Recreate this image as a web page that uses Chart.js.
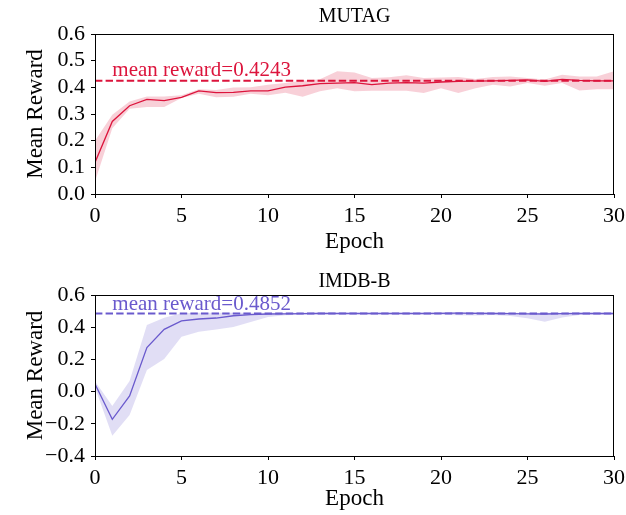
<!DOCTYPE html>
<html>
<head>
<meta charset="utf-8">
<script src="https://cdn.jsdelivr.net/npm/chart.js@4.4.1/dist/chart.umd.min.js"></script>
<style>
  body { margin: 0; background: #fff; }
  #wrap { position: relative; width: 626px; height: 515px; }
  .panel { position: absolute; left: 0; width: 626px; }
</style>
</head>
<body>
<div id="wrap">
  <div class="panel" style="top:0;height:258px"><canvas id="mutagChart"></canvas></div>
  <div class="panel" style="top:258px;height:257px"><canvas id="imdbChart"></canvas></div>
</div>
<script>
// epochs on the x axis
const epochs = [0, 1, 2, 3, 4, 5, 6, 7, 8, 9, 10, 11, 12, 13, 14, 15, 16, 17, 18, 19, 20, 21, 22, 23, 24, 25, 26, 27, 28, 29, 30];

// MUTAG reward per epoch, with the spread band
const mutagReward = [0.118, 0.272, 0.331, 0.355, 0.350, 0.362, 0.387, 0.380, 0.381, 0.387, 0.387, 0.401, 0.406, 0.414, 0.416, 0.418, 0.410, 0.416, 0.418, 0.416, 0.420, 0.422, 0.423, 0.424, 0.426, 0.428, 0.422, 0.430, 0.426, 0.424, 0.424];
const mutagUpper = [0.200, 0.297, 0.347, 0.366, 0.366, 0.370, 0.393, 0.390, 0.399, 0.400, 0.410, 0.416, 0.425, 0.430, 0.460, 0.456, 0.435, 0.438, 0.445, 0.435, 0.437, 0.439, 0.431, 0.439, 0.441, 0.435, 0.429, 0.447, 0.441, 0.441, 0.460];
const mutagLower = [0.047, 0.247, 0.320, 0.326, 0.326, 0.360, 0.376, 0.363, 0.365, 0.376, 0.370, 0.380, 0.365, 0.385, 0.397, 0.385, 0.387, 0.387, 0.387, 0.379, 0.397, 0.379, 0.397, 0.410, 0.403, 0.416, 0.406, 0.416, 0.388, 0.393, 0.393];
const mutagMean = 0.4243;

// IMDB-B reward per epoch, with the spread band
const imdbReward = [0.047, -0.172, -0.027, 0.273, 0.387, 0.439, 0.451, 0.457, 0.471, 0.478, 0.482, 0.483, 0.484, 0.486, 0.485, 0.485, 0.485, 0.485, 0.485, 0.485, 0.486, 0.487, 0.486, 0.485, 0.484, 0.483, 0.482, 0.484, 0.485, 0.485, 0.485];
const imdbUpper = [0.065, -0.089, 0.066, 0.414, 0.459, 0.486, 0.489, 0.490, 0.490, 0.490, 0.490, 0.490, 0.490, 0.491, 0.490, 0.490, 0.490, 0.490, 0.490, 0.490, 0.494, 0.495, 0.494, 0.492, 0.490, 0.490, 0.490, 0.490, 0.490, 0.490, 0.490];
const imdbLower = [0.025, -0.274, -0.145, 0.134, 0.202, 0.341, 0.372, 0.385, 0.401, 0.432, 0.463, 0.475, 0.478, 0.480, 0.480, 0.480, 0.480, 0.480, 0.480, 0.480, 0.478, 0.474, 0.472, 0.476, 0.470, 0.455, 0.434, 0.460, 0.476, 0.478, 0.478];
const imdbMean = 0.4852;

const serif = "'Liberation Serif', 'Times New Roman', serif";

function fmtTick(v) {
    const s = (Math.round(v * 10) / 10).toFixed(1);
    return s === '-0.0' ? '0.0' : s.replace('-', '\u2212');
}

// box around the plot area, the panel title and the mean label
const framePlugin = {
    id: 'frame',
    afterDraw(chart) {
        const ctx = chart.ctx;
        const a = chart.chartArea;
        const opts = chart.options.plugins.frame;
        ctx.save();
        ctx.strokeStyle = '#000';
        ctx.lineWidth = 1;
        ctx.strokeRect(a.left + 0.5, a.top + 0.5, a.right - a.left - 1, a.bottom - a.top);

        ctx.fillStyle = '#000';
        ctx.font = '20px ' + serif;
        ctx.textAlign = 'center';
        ctx.textBaseline = 'alphabetic';
        ctx.fillText(opts.title, (a.left + a.right) / 2, a.top - opts.titleGap);

        const xs = chart.scales.x, ys = chart.scales.y;
        ctx.fillStyle = opts.color;
        ctx.font = '21px ' + serif;
        ctx.textAlign = 'left';
        ctx.fillText('mean reward=' + opts.mean.toFixed(4), xs.getPixelForValue(1), ys.getPixelForValue(opts.mean + 0.02));
        ctx.restore();
    }
};

function drawPanel(id, title, reward, upper, lower, mean, color, band, yMin, yMax, step, padTop, xHeight, titleGap) {
    const ctx = document.getElementById(id).getContext('2d');
    return new Chart(ctx, {
        type: 'line',
        data: {
            labels: epochs,
            datasets: [
                { data: epochs.map(() => mean), borderColor: color, borderWidth: 2, borderDash: [7.4, 3.2], pointRadius: 0, fill: false },
                { data: reward, borderColor: color, borderWidth: 1.3, pointRadius: 0, fill: false },
                { data: upper, borderWidth: 0, borderColor: 'rgba(0,0,0,0)', pointRadius: 0, backgroundColor: band, fill: '+1' },
                { data: lower, borderWidth: 0, borderColor: 'rgba(0,0,0,0)', pointRadius: 0, fill: false }
            ]
        },
        options: {
            responsive: true,
            maintainAspectRatio: false,
            animation: false,
            layout: { padding: { left: 0, right: 12, top: padTop, bottom: 0 } },
            scales: {
                x: {
                    type: 'linear',
                    min: 0,
                    max: 30,
                    afterFit: s => { s.height = xHeight; s.paddingLeft = 0; s.paddingRight = 0; },
                    ticks: { stepSize: 5, autoSkip: false, color: '#000', padding: 5, maxRotation: 0, font: { family: serif, size: 22 } },
                    grid: { drawOnChartArea: false, drawTicks: true, tickLength: 4, color: '#000' },
                    border: { color: '#000' },
                    title: { display: true, text: 'Epoch', color: '#000', font: { family: serif, size: 23 }, padding: { top: 0, bottom: 2 } }
                },
                y: {
                    min: yMin,
                    max: yMax,
                    afterFit: s => { s.width = 95; s.paddingTop = 0; s.paddingBottom = 0; },
                    ticks: { stepSize: step, autoSkip: false, color: '#000', padding: 6, callback: v => fmtTick(v), font: { family: serif, size: 22 } },
                    grid: { drawOnChartArea: false, drawTicks: true, tickLength: 4, color: '#000' },
                    border: { color: '#000' },
                    title: { display: true, text: 'Mean Reward', color: '#000', font: { family: serif, size: 23 }, padding: { top: 22, bottom: 0 } }
                }
            },
            plugins: {
                legend: { display: false },
                tooltip: { enabled: false },
                frame: { title: title, mean: mean, color: color, titleGap: titleGap }
            }
        },
        plugins: [framePlugin]
    });
}

drawPanel('mutagChart', 'MUTAG', mutagReward, mutagUpper, mutagLower, mutagMean,
    '#DC143C', 'rgba(220,20,60,0.2)', 0, 0.6, 0.1, 34, 64, 12);

drawPanel('imdbChart', 'IMDB-B', imdbReward, imdbUpper, imdbLower, imdbMean,
    '#6A5ACD', 'rgba(106,90,205,0.2)', -0.4, 0.6, 0.2, 37, 59, 8);
</script>
</body>
</html>
